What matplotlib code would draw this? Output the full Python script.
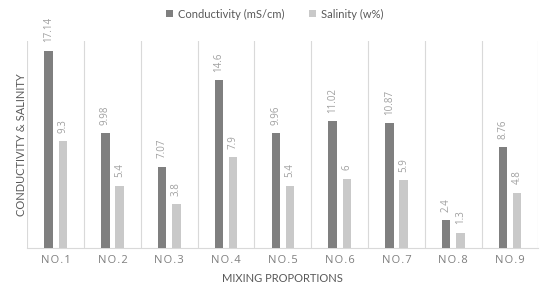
import matplotlib
matplotlib.use("Agg")
import matplotlib.pyplot as plt
import numpy as np

plt.rcParams['font.family'] = ['Lato', 'DejaVu Sans']

categories = ["NO.1", "NO.2", "NO.3", "NO.4", "NO.5", "NO.6", "NO.7", "NO.8", "NO.9"]
conductivity = [17.14, 9.98, 7.07, 14.6, 9.96, 11.02, 10.87, 2.4, 8.76]
salinity = [9.3, 5.4, 3.8, 7.9, 5.4, 6, 5.9, 1.3, 4.8]
cond_labels = ["17.14", "9.98", "7.07", "14.6", "9.96", "11.02", "10.87", "2.4", "8.76"]
sal_labels = ["9.3", "5.4", "3.8", "7.9", "5.4", "6", "5.9", "1.3", "4.8"]

fig = plt.figure(figsize=(5.5, 3.01), dpi=100)
ax = fig.add_axes([0.0497, 0.177, 0.9293, 0.687])

x = np.arange(len(categories))
w = 0.146
off = 0.125
dark = "#7f7f7f"
light = "#c9c9c9"
b1 = ax.bar(x - off, conductivity, w, color=dark, label="Conductivity (mS/cm)", zorder=3)
b2 = ax.bar(x + off, salinity, w, color=light, label="Salinity (w%)", zorder=3)

for bars, labs in ((b1, cond_labels), (b2, sal_labels)):
    for r, t in zip(bars, labs):
        ax.annotate(t, (r.get_x() + r.get_width() / 2, r.get_height()),
                    xytext=(0, 6), textcoords="offset points", rotation=90,
                    ha="center", va="bottom", fontsize=7, color="#a0a0a0",
                    family=['Open Sans', 'DejaVu Sans'])

ax.set_xlim(-0.5, len(categories) - 0.5)
ax.set_ylim(0, 18)
for b in np.arange(-0.5, len(categories) + 0.5, 1):
    ax.axvline(b, color="#d9d9d9", lw=0.8, zorder=1)

spaced = ["\u200a".join(c) for c in categories]
ax.set_xticks(x)
ax.set_xticklabels(spaced, fontsize=8, color="#7f7f7f", family=['Open Sans', 'DejaVu Sans'])
ax.tick_params(axis="x", length=0, pad=5)
ax.set_yticks([])
for s in ["top", "right", "left"]:
    ax.spines[s].set_visible(False)
ax.spines["bottom"].set_color("#d9d9d9")
ax.spines["bottom"].set_linewidth(0.8)

ax.set_xlabel("MIXING PROPORTIONS", fontsize=8, color="#595959", labelpad=5)
ax.set_ylabel("CONDUCTIVITY & SALINITY", fontsize=8, color="#595959", labelpad=0)

fig.legend(handles=[b1, b2], loc="center", bbox_to_anchor=(0.5, 0.953), ncol=2,
           frameon=False, fontsize=8, labelcolor="#595959", handlelength=0.6,
           handleheight=0.6, columnspacing=2.2, handletextpad=0.5)

fig.savefig("out.png", dpi=100)
